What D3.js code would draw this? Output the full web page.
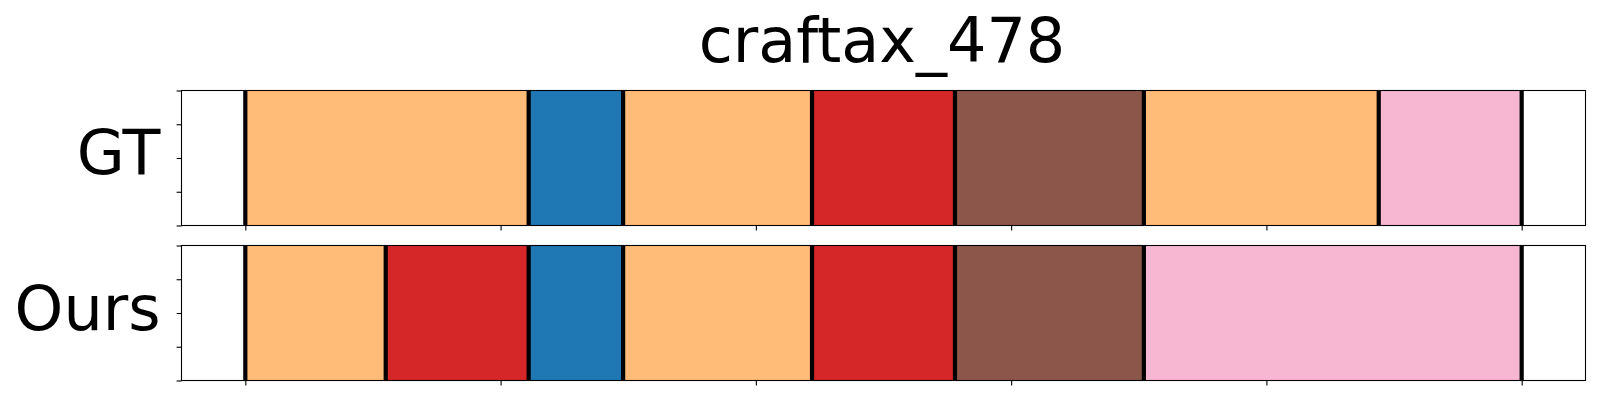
<!DOCTYPE html>
<html>
<head>
<meta charset="utf-8">
<script src="https://cdn.jsdelivr.net/npm/d3@7"></script>
<style>
  html, body { margin: 0; padding: 0; background: #fff; }
  svg { display: block; }
  text { font-family: "DejaVu Sans", sans-serif; fill: #000; }
</style>
</head>
<body>
<svg id="chart" width="1600" height="400"></svg>
<script>
// ---- data ----
const title = "craftax_478";
const rowLabels = ["GT", "Ours"];
const gtBounds = [0, 111, 148, 222, 278, 352, 444, 500];
const gtActions = ["orange", "blue", "orange", "red", "brown", "orange", "pink"];
const oursBounds = [0, 55, 111, 148, 222, 278, 352, 500];
const oursActions = ["orange", "red", "blue", "orange", "red", "brown", "pink"];
const xTicks = [0, 100, 200, 300, 400, 500];
const yTicks = [0, 1, 2, 3, 4];
const actionColors = {
  orange: "#ffbb78",
  blue: "#1f77b4",
  red: "#d62728",
  brown: "#8c564b",
  pink: "#f7b6d2"
};

// ---- layout ----
const svg = d3.select("#chart");
const left = 181.5, right = 1585.5;
const panels = [
  { label: rowLabels[0], bounds: gtBounds, actions: gtActions, top: 90.5, bottom: 225.5, labelY: 174.3 },
  { label: rowLabels[1], bounds: oursBounds, actions: oursActions, top: 245.5, bottom: 380.5, labelY: 329.8 }
];

const x = d3.scaleLinear().domain([-25, 525]).range([left, right]);

svg.append("text")
  .attr("x", 882)
  .attr("y", 62)
  .attr("text-anchor", "middle")
  .style("font-size", "62px")
  .text(title);

panels.forEach(p => {
  const y = d3.scaleLinear().domain([0, 4]).range([p.bottom, p.top]);
  const g = svg.append("g");

  const segs = p.actions.map((a, i) => ({ a, x0: p.bounds[i], x1: p.bounds[i + 1] }));
  g.selectAll("rect.seg").data(segs).enter().append("rect")
    .attr("class", "seg")
    .attr("x", d => x(d.x0))
    .attr("width", d => x(d.x1) - x(d.x0))
    .attr("y", y(4))
    .attr("height", y(0) - y(4))
    .attr("fill", d => actionColors[d.a]);

  g.selectAll("line.bound").data(p.bounds).enter().append("line")
    .attr("class", "bound")
    .attr("x1", d => x(d)).attr("x2", d => x(d))
    .attr("y1", y(4)).attr("y2", y(0))
    .attr("stroke", "#000")
    .attr("stroke-width", 4.2);

  // axes
  const xAxis = d3.axisBottom(x).tickValues(xTicks).tickSize(4.9).tickFormat("");
  const xg = g.append("g").attr("transform", `translate(0,${p.bottom})`).call(xAxis);
  xg.select(".domain").remove();
  xg.selectAll(".tick line").attr("stroke", "#000").attr("stroke-width", 1.1);

  const yAxis = d3.axisLeft(y).tickValues(yTicks).tickSize(4.9).tickFormat("");
  const yg = g.append("g").attr("transform", `translate(${left},0)`).call(yAxis);
  yg.select(".domain").remove();
  yg.selectAll(".tick line").attr("stroke", "#000").attr("stroke-width", 1.1);

  // spines
  g.append("rect")
    .attr("x", left).attr("y", p.top)
    .attr("width", right - left).attr("height", p.bottom - p.top)
    .attr("fill", "none").attr("stroke", "#000").attr("stroke-width", 1.1);

  svg.append("text")
    .attr("x", 160.5)
    .attr("y", p.labelY)
    .attr("text-anchor", "end")
    .style("font-size", "62px")
    .text(p.label);
});
</script>
</body>
</html>
